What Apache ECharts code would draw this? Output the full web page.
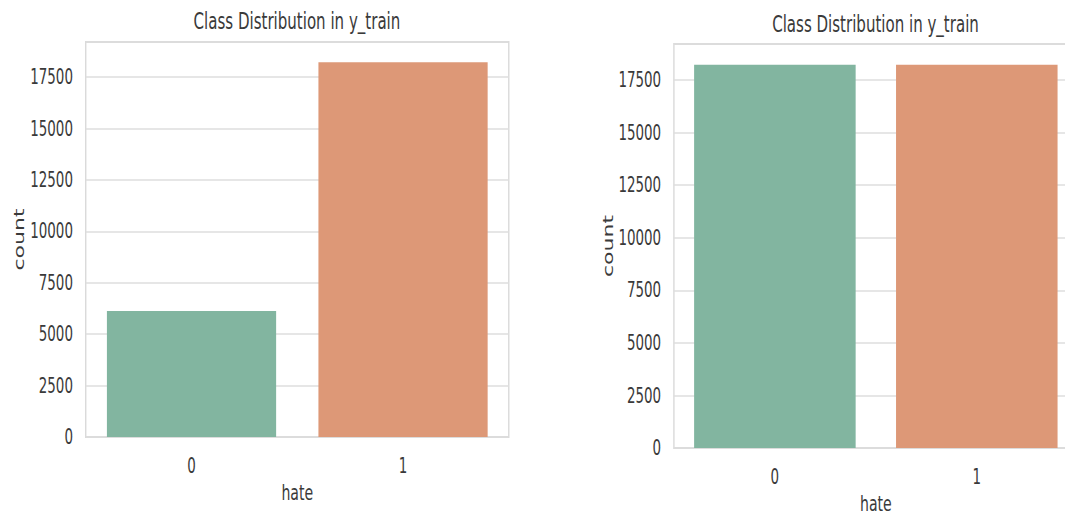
<!DOCTYPE html>
<html>
<head>
<meta charset="utf-8">
<script src="https://cdn.jsdelivr.net/npm/echarts@6/dist/echarts.min.js"></script>
<style>
  html, body { margin: 0; padding: 0; background: #ffffff; overflow: hidden; }
  #wrap { width: 1065px; height: 517px; overflow: hidden; position: relative; }
  #chart { width: 1664px; height: 517px; transform: scaleX(0.64); transform-origin: 0 0; }
</style>
</head>
<body>
<div id="wrap"><div id="chart"></div></div>
<script>
// ---- data ----
const categories = ['0', '1'];
const trainCounts = [6130, 18220];        // left panel: original y_train
const resampledCounts = [18220, 18220];   // right panel: balanced y_train
const barColors = ['#82b5a0', '#dd9877'];
const titleText = 'Class Distribution in y_train';
const xName = 'hate';
const yName = 'count';
const yInterval = 2500;
const yMaxLeft = 19200;
const yMaxRight = 19210;

// ---- styles ----
const FONT = 'DejaVu Sans';
const TXT = '#3a3a3a';

function xAxisCfg(gridIndex, gap) {
  return {
    type: 'category', gridIndex, data: categories,
    name: xName, nameLocation: 'middle', nameGap: gap,
    nameTextStyle: { fontFamily: FONT, fontSize: 22, color: TXT },
    axisLine: { show: false }, axisTick: { show: false },
    axisLabel: { fontFamily: FONT, fontSize: 21, color: TXT, margin: 18 },
    splitLine: { show: false }
  };
}
function yAxisCfg(gridIndex, max, gap) {
  return {
    type: 'value', gridIndex, min: 0, max: max, interval: yInterval,
    name: yName, nameLocation: 'middle', nameGap: gap,
    nameTextStyle: { fontFamily: FONT, fontSize: 22, color: TXT },
    axisLine: { show: false }, axisTick: { show: false },
    axisLabel: { fontFamily: FONT, fontSize: 21, color: TXT, margin: 20, showMaxLabel: false,
                 formatter: v => String(v) },
    splitLine: { show: true, lineStyle: { color: '#dedede', width: 1.6 } }
  };
}
function barSeries(idx, values) {
  return {
    type: 'bar', xAxisIndex: idx, yAxisIndex: idx, data: values,
    barCategoryGap: '20%',
    itemStyle: { color: p => barColors[p.dataIndex] },
    emphasis: { disabled: true }
  };
}

const chart = echarts.init(document.getElementById('chart'), null, { renderer: 'svg' });
chart.setOption({
  animation: false,
  backgroundColor: '#ffffff',
  title: [
    { text: titleText, left: 464, top: 9, padding: 0, textAlign: 'center',
      textStyle: { fontFamily: FONT, fontSize: 23.5, fontWeight: 'normal', color: TXT } },
    { text: titleText, left: 1368, top: 12, padding: 0, textAlign: 'center',
      textStyle: { fontFamily: FONT, fontSize: 23.5, fontWeight: 'normal', color: TXT } }
  ],
  grid: [
    { left: 134, width: 661, top: 42, bottom: 80, show: true, borderColor: '#d6d6d6', borderWidth: 2,
      containLabel: false, outerBoundsMode: 'none' },
    { left: 1053, width: 631, top: 44, bottom: 69, show: true, borderColor: '#d6d6d6', borderWidth: 2,
      containLabel: false, outerBoundsMode: 'none' }
  ],
  xAxis: [xAxisCfg(0, 43), xAxisCfg(1, 44)],
  yAxis: [yAxisCfg(0, yMaxLeft, 94), yAxisCfg(1, yMaxRight, 92)],
  series: [barSeries(0, trainCounts), barSeries(1, resampledCounts)]
});
</script>
</body>
</html>
